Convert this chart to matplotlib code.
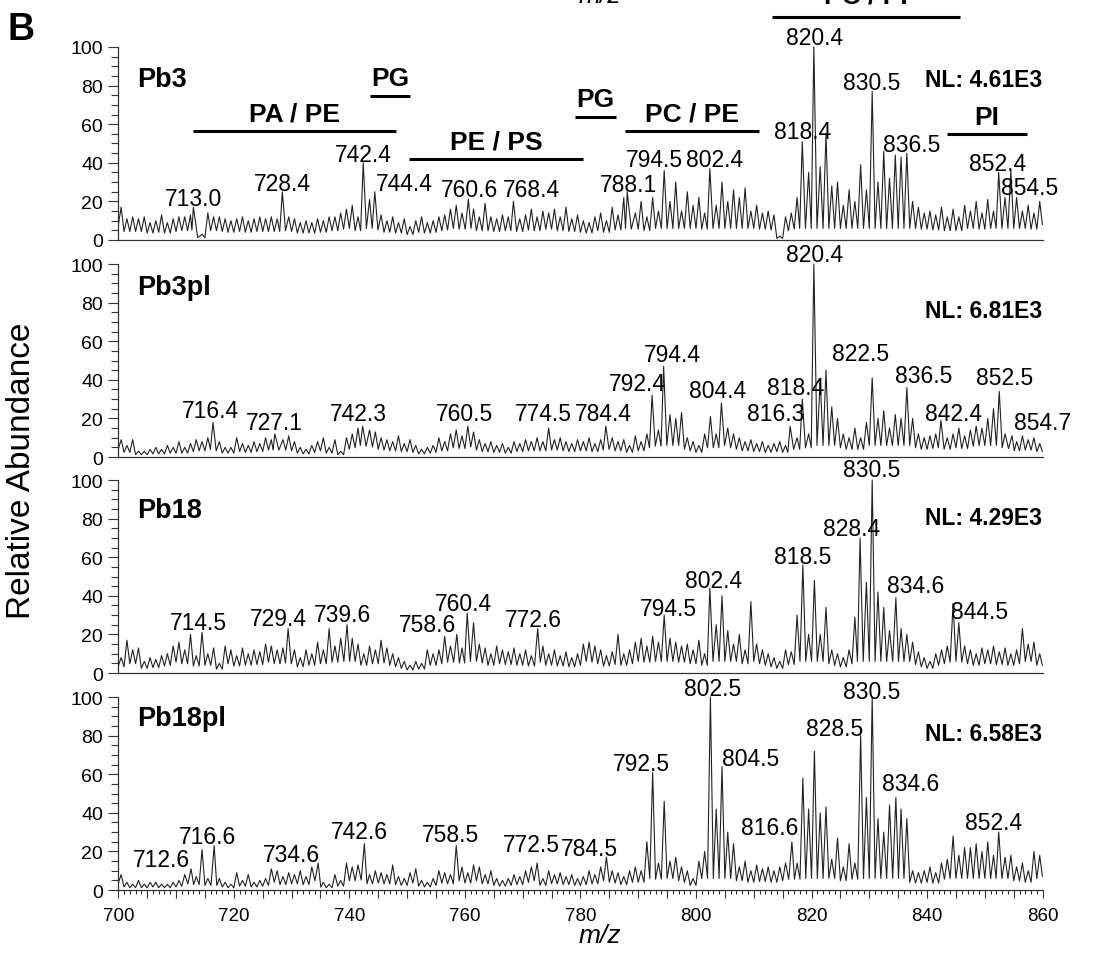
import numpy as np
import matplotlib.pyplot as plt
from matplotlib.ticker import MultipleLocator, FuncFormatter

plt.rcParams['font.family'] = ['Liberation Sans', 'DejaVu Sans']

# nominal masses 700..859, one peak per unit (relative abundance, %)
nominal = np.arange(700, 860)

samples = ['Pb3', 'Pb3pl', 'Pb18', 'Pb18pl']
nl_values = ['NL: 4.61E3', 'NL: 6.81E3', 'NL: 4.29E3', 'NL: 6.58E3']

pb3 = [17, 11, 12, 11, 12, 9, 10, 13, 9, 11,
       12, 12, 13, 17, 3, 14, 12, 12, 11, 10,
       11, 12, 10, 11, 12, 11, 12, 11, 25, 12,
       11, 9, 10, 9, 11, 10, 12, 12, 14, 16,
       18, 12, 40, 21, 25, 13, 10, 12, 9, 11,
       7, 10, 12, 9, 10, 12, 13, 16, 18, 14,
       21, 16, 12, 19, 12, 11, 13, 12, 20, 11,
       13, 16, 12, 15, 14, 16, 12, 17, 11, 13,
       10, 9, 12, 14, 10, 17, 13, 22, 25, 14,
       20, 12, 22, 15, 36, 20, 30, 15, 25, 18,
       22, 14, 37, 18, 30, 20, 26, 22, 27, 15,
       18, 14, 15, 13, 2, 12, 14, 22, 51, 35,
       100, 38, 55, 28, 30, 18, 26, 20, 39, 26,
       77, 30, 46, 32, 44, 43, 45, 20, 17, 14,
       15, 13, 17, 12, 16, 12, 18, 15, 20, 14,
       21, 15, 35, 22, 36, 22, 15, 18, 14, 20]

pb3pl = [9, 6, 9, 3, 3, 4, 5, 4, 6, 5,
         8, 5, 7, 9, 8, 10, 18, 8, 5, 5,
         10, 7, 6, 8, 7, 10, 9, 12, 9, 11,
         8, 5, 4, 6, 8, 10, 5, 9, 3, 10,
         12, 15, 16, 14, 13, 10, 9, 8, 11, 7,
         9, 6, 4, 5, 6, 10, 8, 12, 14, 11,
         16, 13, 9, 7, 8, 6, 7, 5, 8, 7,
         9, 8, 10, 8, 15, 9, 10, 8, 7, 9,
         8, 10, 7, 9, 16, 10, 8, 9, 6, 11,
         8, 12, 32, 14, 47, 22, 20, 23, 10, 8,
         6, 12, 21, 12, 28, 15, 12, 10, 8, 9,
         7, 8, 6, 7, 8, 6, 16, 10, 30, 12,
         100, 40, 45, 26, 20, 12, 10, 15, 10, 18,
         41, 20, 24, 15, 22, 20, 36, 20, 12, 10,
         11, 12, 19, 10, 12, 15, 11, 14, 16, 15,
         20, 25, 34, 12, 11, 8, 11, 9, 10, 7]

pb18 = [8, 17, 12, 13, 6, 8, 7, 9, 10, 14,
        16, 12, 20, 9, 21, 10, 13, 5, 14, 12,
        9, 13, 10, 12, 11, 15, 14, 12, 13, 23,
        12, 8, 12, 10, 16, 12, 23, 14, 18, 25,
        18, 15, 10, 14, 12, 17, 13, 10, 8, 6,
        4, 6, 5, 12, 10, 12, 19, 14, 20, 13,
        31, 26, 15, 13, 10, 14, 12, 11, 13, 10,
        12, 9, 23, 14, 10, 12, 9, 11, 8, 10,
        15, 16, 14, 12, 9, 11, 20, 10, 12, 16,
        18, 14, 19, 16, 30, 18, 16, 14, 15, 12,
        17, 10, 44, 25, 40, 22, 15, 20, 12, 37,
        15, 12, 10, 8, 6, 12, 11, 30, 56, 20,
        48, 20, 34, 12, 10, 8, 12, 29, 70, 47,
        100, 42, 34, 22, 39, 23, 20, 16, 11, 8,
        6, 10, 12, 14, 36, 26, 14, 12, 10, 13,
        12, 14, 11, 13, 10, 12, 23, 15, 16, 10]

pb18pl = [8, 4, 3, 5, 3, 4, 4, 3, 3, 4,
          5, 8, 11, 7, 21, 6, 23, 6, 4, 3,
          9, 5, 8, 4, 5, 6, 11, 10, 7, 9,
          8, 10, 7, 12, 14, 4, 3, 8, 5, 14,
          12, 13, 24, 8, 10, 9, 8, 13, 7, 6,
          9, 11, 5, 4, 6, 10, 9, 8, 23, 12,
          9, 13, 12, 8, 10, 6, 5, 6, 8, 7,
          10, 12, 14, 6, 10, 8, 9, 7, 8, 6,
          7, 10, 8, 12, 17, 10, 9, 7, 10, 12,
          10, 25, 61, 14, 46, 15, 17, 12, 10, 6,
          15, 20, 100, 42, 64, 30, 24, 12, 15, 10,
          13, 11, 12, 10, 12, 14, 25, 14, 58, 42,
          72, 40, 43, 16, 27, 12, 24, 14, 80, 48,
          100, 37, 30, 44, 48, 42, 37, 10, 9, 10,
          12, 9, 14, 16, 28, 18, 22, 22, 24, 20,
          25, 18, 30, 17, 18, 12, 14, 10, 20, 18]

# labelled peaks (m/z) for each sample
pb3_labels = ['713.0', '728.4', '742.4', '744.4', '760.6', '768.4', '788.1', '794.5',
              '802.4', '818.4', '820.4', '830.5', '836.5', '852.4', '854.5']
pb3pl_labels = ['716.4', '727.1', '742.3', '760.5', '774.5', '784.4', '792.4', '794.4',
                '804.4', '816.3', '818.4', '820.4', '822.5', '836.5', '842.4', '852.5', '854.7']
pb18_labels = ['714.5', '729.4', '739.6', '758.6', '760.4', '772.6', '794.5', '802.4',
               '818.5', '828.4', '830.5', '834.6', '844.5']
pb18pl_labels = ['712.6', '716.6', '734.6', '742.6', '758.5', '772.5', '784.5', '792.5',
                 '802.5', '804.5', '816.6', '828.5', '830.5', '834.6', '852.4']

# where the label text sits (x centre, baseline), as in the original layout
pb3_lab_x = [713.0, 728.4, 742.4, 749.5, 760.8, 771.5, 788.3, 792.8,
             803.2, 818.4, 820.5, 830.5, 837.3, 852.2, 857.8]
pb3_lab_y = [18, 26, 41, 26, 23, 23, 25.5, 38.5, 38.5, 53, 101.5, 78, 46, 36.5, 24]
pb3pl_lab_x = [716.0, 727.0, 741.5, 760.0, 773.5, 784.0, 789.8, 796.0,
               803.8, 813.8, 817.3, 820.5, 828.5, 839.5, 844.5, 853.5, 860.0]
pb3pl_lab_y = [20.5, 14.5, 19, 19.3, 19.3, 19.3, 34.5, 50, 31, 19.3, 32.6, 101.5,
               50.5, 39, 19.3, 38, 14.5]
pb18_lab_x = [713.8, 727.8, 738.8, 753.5, 759.8, 771.8, 795.2, 803.0,
              818.5, 827.0, 830.5, 838.0, 849.0]
pb18_lab_y = [23, 25, 27, 22, 32.5, 24.5, 30.3, 44.5, 56.8, 71.5, 102, 42, 28.5]
pb18pl_lab_x = [707.5, 715.5, 730.0, 741.8, 757.5, 771.5, 781.5, 790.5,
                802.9, 809.5, 812.8, 824.0, 830.5, 837.2, 851.5]
pb18pl_lab_y = [12.5, 24.5, 15, 27, 25.5, 20, 18, 62, 101, 65, 29, 80.5, 99.5, 52, 31.5]

# lipid class annotations over the first spectrum: text, x0, x1, bar height
classes = ['PA / PE', 'PG', 'PE / PS', 'PG', 'PC / PE', 'PC / PI', 'PI']
class_x0 = [713.0, 743.6, 750.4, 779.1, 787.7, 813.2, 843.5]
class_x1 = [748.1, 750.5, 780.5, 786.1, 810.9, 845.7, 857.3]
class_bar_y = [56.5, 74.8, 42.0, 63.6, 56.5, 115.4, 54.9]
class_text_y = [61.8, 80.3, 47.2, 69.6, 61.8, 123.3, 60.1]

spectra = [pb3, pb3pl, pb18, pb18pl]
labels = [pb3_labels, pb3pl_labels, pb18_labels, pb18pl_labels]
lab_x = [pb3_lab_x, pb3pl_lab_x, pb18_lab_x, pb18pl_lab_x]
lab_y = [pb3_lab_y, pb3pl_lab_y, pb18_lab_y, pb18pl_lab_y]
name_y = [80, 84.5, 80.7, 85.6]
nl_y = [79.6, 72.4, 77.2, 77.8]


def profile(heights, peak_labels):
    h = np.array(heights, dtype=float)
    pos = nominal + 0.5
    for lab in peak_labels:
        v = float(lab)
        pos[int(v) - 700] = v
    # valleys between neighbouring peaks
    valley = np.minimum(0.4 * np.minimum(h[:-1], h[1:]), 6)
    x = np.empty(2 * len(h) - 1)
    y = np.empty(2 * len(h) - 1)
    x[0::2] = pos
    y[0::2] = h
    x[1::2] = (pos[:-1] + pos[1:]) / 2
    y[1::2] = valley
    x = np.concatenate([[700.05], x, [859.95]])
    y = np.concatenate([[0.5 * h[0]], y, [0.4 * h[-1]]])
    return x, y


fig = plt.figure(figsize=(10.93, 9.54), dpi=100)
left, width, height = 0.1082, 0.8457, 0.2023
bottoms = [0.7474, 0.5199, 0.2935, 0.0660]
axes = []
for i in range(4):
    ax = fig.add_axes([left, bottoms[i], width, height])
    axes.append(ax)
    x, y = profile(spectra[i], labels[i])
    ax.plot(x, y, color='#222222', lw=0.8, clip_on=False)
    ax.set_xlim(700, 860)
    ax.set_ylim(0, 100)
    for s in ['top', 'right']:
        ax.spines[s].set_visible(False)
    for s in ['left', 'bottom']:
        ax.spines[s].set_linewidth(0.9)
        ax.spines[s].set_color('#333333')
    ax.yaxis.set_major_locator(MultipleLocator(20))
    ax.yaxis.set_minor_locator(MultipleLocator(5))
    ax.tick_params(axis='y', which='major', direction='out', length=7, width=0.8,
                   labelsize=14, pad=4, color='#333333')
    ax.tick_params(axis='y', which='minor', direction='out', length=5, width=0.8,
                   color='#333333')
    if i < 3:
        ax.tick_params(axis='x', which='both', bottom=False, labelbottom=False)
    else:
        ax.xaxis.set_major_locator(MultipleLocator(5))
        ax.xaxis.set_minor_locator(MultipleLocator(1))
        ax.xaxis.set_major_formatter(FuncFormatter(
            lambda v, p: f'{v:.0f}' if round(v) % 20 == 0 else ''))
        ax.tick_params(axis='x', which='major', direction='out', length=6, width=0.8,
                       labelsize=13.5, pad=6, color='#333333')
        ax.tick_params(axis='x', which='minor', direction='out', length=3, width=0.8,
                       color='#333333')

    ax.text(703.3, name_y[i], samples[i], fontsize=19.5, fontweight='bold', va='baseline')
    ax.text(859.9, nl_y[i], nl_values[i], fontsize=16.5, fontweight='bold',
            ha='right', va='baseline')
    for t, tx, ty in zip(labels[i], lab_x[i], lab_y[i]):
        ax.text(tx, ty, t, fontsize=16.5, ha='center', va='baseline')

ax0 = axes[0]
for t, x0, x1, by, ty in zip(classes, class_x0, class_x1, class_bar_y, class_text_y):
    ax0.plot([x0, x1], [by, by], color='black', lw=2.2, clip_on=False,
             solid_capstyle='butt')
    ax0.text((x0 + x1) / 2, ty, t, fontsize=19, fontweight='bold',
             ha='center', va='baseline')

fig.text(0.020, 0.507, 'Relative Abundance', rotation=90, fontsize=24,
         ha='center', va='center')
fig.text(0.5485, 0.012, 'm/z', fontsize=19, style='italic', ha='center', va='baseline')
fig.text(0.549, 1 - 3 / 954, 'm/z', fontsize=19, style='italic', ha='center', va='baseline')
fig.text(0.007, 0.958, 'B', fontsize=27, fontweight='bold', va='baseline')

fig.savefig('out.png', dpi=100)
